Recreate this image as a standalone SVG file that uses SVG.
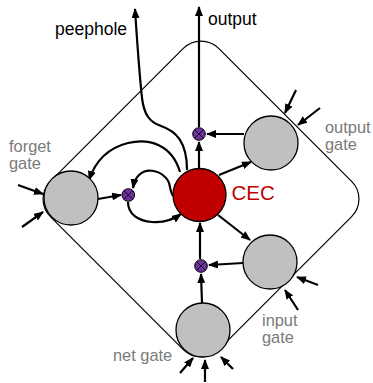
<svg xmlns="http://www.w3.org/2000/svg" width="373" height="383" viewBox="0 0 373 383">
<defs>
<marker id="ah" viewBox="0 0 10 8" refX="9" refY="4" markerWidth="10" markerHeight="8" markerUnits="userSpaceOnUse" orient="auto">
<path d="M0,0 L10,4 L0,8 z" fill="#000"/>
</marker>
<style>
.c{fill:none;stroke:#000;stroke-width:2.2;marker-end:url(#ah)}
.g{fill:#c0c0c0;stroke:#000;stroke-width:1.3}
.m{fill:#7030a0;stroke:#000;stroke-width:1}
.x{stroke:#000;stroke-width:0.9}
.lb{font-family:"Liberation Sans",Arial,sans-serif;font-size:17.5px;fill:#000}
.lg{font-family:"Liberation Sans",Arial,sans-serif;font-size:16.4px;fill:#7a7a7a}
</style>
</defs>
<rect id="cell" x="82" y="80" width="238" height="238" rx="25" ry="25" transform="rotate(45 201 199)" fill="none" stroke="#000" stroke-width="1.2"/>
<g id="connectors">
<path class="c" d="M199,127 L199,7"/>
<path class="c" d="M187,170 C187,142 176,131 161,126 C149,122 144,114 142,98 C139,70 137,40 135,9"/>
<path class="c" d="M180,172 C172,145 150,138 128,143 C108,148 95,162 89,180"/>
<path class="c" d="M173,196 C168,188 172,183 165,177 C158,170 146,168 139,175 C136,178 134,182 133,188"/>
<path class="c" d="M128,202 C128,214 138,221 152,222 C164,223 174,219 181,214"/>
<path class="c" d="M98,199 L121,195"/>
<path class="c" d="M199,168 L199,142"/>
<path class="c" d="M244,134 L207,134"/>
<path class="c" d="M219,175 L251,162"/>
<path class="c" d="M218,215 L250,240"/>
<path class="c" d="M243,263 L209,265"/>
<path class="c" d="M200,259 L200,223"/>
<path class="c" d="M202,303 L201,274"/>
<path class="c" d="M18,185 L43,194"/>
<path class="c" d="M22,227 L43,212"/>
<path class="c" d="M296,90 L285,113"/>
<path class="c" d="M320,108 L298,125"/>
<path class="c" d="M318,285 L297,277"/>
<path class="c" d="M298,310 L285,290"/>
<path class="c" d="M180,373 L193,358"/>
<path class="c" d="M205,382 L205,360"/>
<path class="c" d="M233,369 L221,357"/>
</g>
<g id="forget-gate"><circle class="g" cx="71" cy="198" r="27"/><text class="lg" x="9" y="152">forget</text><text class="lg" x="9" y="169">gate</text></g>
<g id="output-gate"><circle class="g" cx="271" cy="143" r="27"/><text class="lg" x="325" y="133">output</text><text class="lg" x="325" y="150">gate</text></g>
<g id="input-gate"><circle class="g" cx="270" cy="262" r="27"/><text class="lg" x="262" y="326">input</text><text class="lg" x="262" y="343">gate</text></g>
<g id="net-gate"><circle class="g" cx="203" cy="330" r="27"/><text class="lg" x="113" y="361">net gate</text></g>
<g id="cec"><circle cx="199.5" cy="195" r="26.5" fill="#c00000" stroke="#000" stroke-width="1.3"/><text x="231.5" y="200" font-family="Liberation Sans,Arial,sans-serif" font-size="20.5" fill="#c00000">CEC</text></g>
<g id="mult-out"><circle class="m" cx="199" cy="134" r="6.3"/><path class="x" d="M194.6,129.6 L203.4,138.4 M203.4,129.6 L194.6,138.4"/></g>
<g id="mult-forget"><circle class="m" cx="128.3" cy="195" r="6.3"/><path class="x" d="M123.9,190.6 L132.7,199.4 M132.7,190.6 L123.9,199.4"/></g>
<g id="mult-in"><circle class="m" cx="201" cy="266" r="6.3"/><path class="x" d="M196.6,261.6 L205.4,270.4 M205.4,261.6 L196.6,270.4"/></g>
<g id="labels"><text class="lb" x="208" y="25">output</text><text class="lb" x="55" y="35">peephole</text></g>
</svg>
